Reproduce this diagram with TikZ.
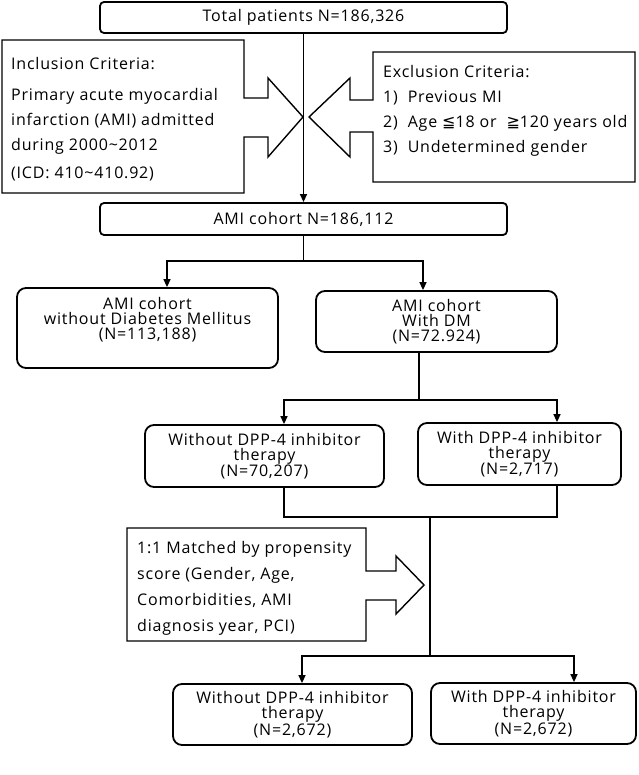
\documentclass[tikz,border=0pt]{standalone}
\usepackage{fontspec}
\setmainfont{Open Sans}[LetterSpace=5]
\newfontfamily\symfont{DejaVu Sans}
\usetikzlibrary{arrows.meta}

\begin{document}
\begin{tikzpicture}[x=1pt,y=-1pt,
		topbox/.style={draw,line width=1.8pt,rounded corners=4pt,inner sep=0pt,font=\fontsize{16}{15}\selectfont},
		cohort/.style={draw,line width=1.8pt,rounded corners=9pt,inner sep=0pt,align=center,font=\fontsize{16}{15}\selectfont},
		crit/.style={align=left,anchor=north west,inner sep=0pt,font=\fontsize{16}{25}\selectfont},
		blockarrow/.style={draw,line width=1.4pt,line join=miter},
		conn/.style={line width=1.4pt},
		arr/.style={conn,-{Triangle[length=8pt,width=7pt]}}]
		\useasboundingbox (0,0) rectangle (638,775);
		
		\node[topbox,minimum width=407pt,minimum height=31pt] (total) at (303.5,17.5) {Total patients N=186,326};
		\node[topbox,minimum width=407pt,minimum height=32pt] (ami) at (303.5,219) {AMI cohort N=186,112};
		
		% criteria
		\draw[blockarrow] (2,40) -- (244,40) -- (244,98) -- (268,98) -- (268,78) -- (303,117) -- (268,157) -- (268,137) -- (244,137) -- (244,193) -- (2,193) -- cycle;
		\draw[blockarrow] (635,52) -- (373,52) -- (373,100) -- (350,100) -- (350,78) -- (309,117) -- (350,157) -- (350,132) -- (373,132) -- (373,182) -- (635,182) -- cycle;
		\node[crit] (incl) at (11,57) {Inclusion Criteria:\\[6pt]Primary acute myocardial\\infarction (AMI) admitted\\during 2000\textasciitilde2012\\[3pt](ICD: 410\textasciitilde410.92)};
		\node[crit] (excl) at (383,65) {Exclusion Criteria:\\1)~ Previous MI\\2)~ Age {\symfont ≦}18 or~ {\symfont ≧}120 years old\\3)~ Undetermined gender};
		
		\node[cohort,minimum width=261pt,minimum height=80pt] (nodm) at (147.5,328) {};
		\node[cohort,draw=none] (nodmtext) at ([yshift=8pt]nodm.center) {AMI cohort\\without Diabetes Mellitus\\(N=113,188)};
		\node[cohort,minimum width=241pt,minimum height=61pt] (dm) at (436.5,321.5) {AMI cohort\\With DM\\(N=72.924)};
		
		\node[cohort,minimum width=239pt,minimum height=62pt] (nodpp) at (264.5,456) {Without DPP-4 inhibitor\\therapy\\(N=70,207)};
		\node[cohort,minimum width=203pt,minimum height=62pt] (dpp) at (519.5,454) {With DPP-4 inhibitor\\therapy\\(N=2,717)};
		
		% matching
		\draw[blockarrow] (127,528) -- (366,528) -- (366,571) -- (396,571) -- (396,556) -- (424,585) -- (396,614) -- (396,600) -- (366,600) -- (366,641) -- (127,641) -- cycle;
		\node[crit,font=\fontsize{16}{26}\selectfont] (match) at (137,541) {1:1 Matched by propensity\\score (Gender, Age,\\Comorbidities, AMI\\diagnosis year, PCI)};
		
		\node[cohort,minimum width=239pt,minimum height=61pt] (nodppm) at (292.5,714.5) {Without DPP-4 inhibitor\\therapy\\(N=2,672)};
		\node[cohort,minimum width=205pt,minimum height=61pt] (dppm) at (533.5,713.5) {With DPP-4 inhibitor\\therapy\\(N=2,672)};
		
		\draw[arr] (total) -- (ami);
		
		\coordinate (split1) at (303.5,261);
		\draw[conn] (ami) -- (split1);
		\draw[arr] (split1) -| ([xshift=19.5pt]nodm.north);
		\draw[arr] (split1) -| ([xshift=-13.5pt]dm.north);
		
		\coordinate (split2) at (419,400);
		\draw[conn] ([xshift=-17.5pt]dm.south) -- (split2);
		\draw[arr] (split2) -| ([xshift=19.5pt]nodpp.north);
		\draw[arr] (split2) -| ([xshift=37.5pt]dpp.north);
		
		\coordinate (merge) at (430,517);
		\draw[conn] ([xshift=19.5pt]nodpp.south) |- (merge) -| ([xshift=37.5pt]dpp.south);
		
		\coordinate (split3) at (430,656);
		\draw[conn] (merge) -- (split3);
		\draw[arr] (split3) -| ([xshift=9.5pt]nodppm.north);
		\draw[arr] (split3) -| ([xshift=40.5pt]dppm.north);
	\end{tikzpicture}
\end{document}
